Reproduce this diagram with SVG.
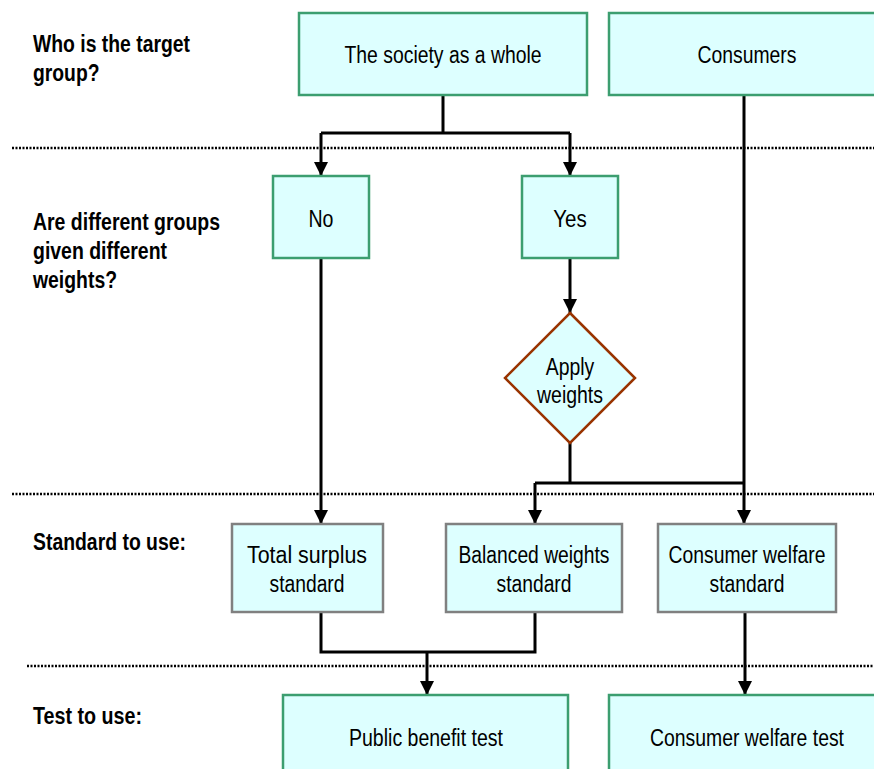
<svg xmlns="http://www.w3.org/2000/svg" width="874" height="769" viewBox="0 0 874 769">
<defs>
<marker id="ah" markerUnits="userSpaceOnUse" markerWidth="16" markerHeight="16" refX="14" refY="7" orient="auto">
<path d="M0,0 L14,7 L0,14 Z" fill="#000"/>
</marker>
<style>
.lbl{font-family:"Liberation Sans Narrow","Liberation Sans",Arial,sans-serif;font-size:23px;font-weight:bold;fill:#000}
.t{font-family:"Liberation Sans Narrow","Liberation Sans",Arial,sans-serif;font-size:23px;fill:#000;text-anchor:middle}
.g{fill:#DDFFFF;stroke:#3C9E70;stroke-width:2.5}
.s{fill:#DDFFFF;stroke:#808080;stroke-width:2.5}
.d{fill:#DDFFFF;stroke:#993300;stroke-width:2.5}
.c{fill:none;stroke:#000;stroke-width:3}
.dot{stroke:#000;stroke-width:2.5;stroke-dasharray:2 1.5}
</style>
</defs>
<rect width="874" height="769" fill="#fff"/>
<g id="separators">
<line class="dot" x1="12" y1="148" x2="874" y2="148"/>
<line class="dot" x1="12" y1="494" x2="874" y2="494"/>
<line class="dot" x1="27" y1="666" x2="874" y2="666"/>
</g>
<g id="labels">
<text class="lbl" x="33" y="52" textLength="157" lengthAdjust="spacingAndGlyphs">Who is the target</text>
<text class="lbl" x="33" y="81" textLength="66.5" lengthAdjust="spacingAndGlyphs">group?</text>
<text class="lbl" x="33" y="230" textLength="187" lengthAdjust="spacingAndGlyphs">Are different groups</text>
<text class="lbl" x="33" y="259" textLength="134" lengthAdjust="spacingAndGlyphs">given different</text>
<text class="lbl" x="33" y="288" textLength="84" lengthAdjust="spacingAndGlyphs">weights?</text>
<text class="lbl" x="33" y="550" textLength="153" lengthAdjust="spacingAndGlyphs">Standard to use:</text>
<text class="lbl" x="33" y="724" textLength="109" lengthAdjust="spacingAndGlyphs">Test to use:</text>
</g>
<g id="connectors">
<path class="c" d="M443,95 V133 M321,133 H570"/>
<path class="c" d="M321,133 V176" marker-end="url(#ah)"/>
<path class="c" d="M570,133 V176" marker-end="url(#ah)"/>
<path class="c" d="M570,258 V313" marker-end="url(#ah)"/>
<path class="c" d="M321,258 V524" marker-end="url(#ah)"/>
<path class="c" d="M744,95 V524" marker-end="url(#ah)"/>
<path class="c" d="M570,443 V483 M535,483 H744"/>
<path class="c" d="M535,483 V524" marker-end="url(#ah)"/>
<path class="c" d="M321,612 V652 H535 V612"/>
<path class="c" d="M427,652 V695" marker-end="url(#ah)"/>
<path class="c" d="M745,612 V695" marker-end="url(#ah)"/>
</g>
<g id="society">
<rect class="g" x="299" y="13" width="288" height="82"/>
<text class="t" x="443" y="63" textLength="197" lengthAdjust="spacingAndGlyphs">The society as a whole</text>
</g>
<g id="consumers">
<rect class="g" x="609" y="13" width="270" height="82"/>
<text class="t" x="747" y="63" textLength="99" lengthAdjust="spacingAndGlyphs">Consumers</text>
</g>
<g id="no">
<rect class="g" x="273" y="176" width="96" height="82"/>
<text class="t" x="321" y="227" textLength="25" lengthAdjust="spacingAndGlyphs">No</text>
</g>
<g id="yes">
<rect class="g" x="522" y="176" width="96" height="82"/>
<text class="t" x="570" y="227" textLength="33.5" lengthAdjust="spacingAndGlyphs">Yes</text>
</g>
<g id="apply">
<polygon class="d" points="570,313 635,378 570,443 505,378"/>
<text class="t" x="570" y="375" textLength="48.5" lengthAdjust="spacingAndGlyphs">Apply</text>
<text class="t" x="570" y="403" textLength="66" lengthAdjust="spacingAndGlyphs">weights</text>
</g>
<g id="total">
<rect class="s" x="232" y="524" width="151" height="88"/>
<text class="t" x="307" y="563" textLength="120" lengthAdjust="spacingAndGlyphs">Total surplus</text>
<text class="t" x="307" y="592" textLength="75" lengthAdjust="spacingAndGlyphs">standard</text>
</g>
<g id="balanced">
<rect class="s" x="446" y="524" width="176" height="88"/>
<text class="t" x="534" y="563" textLength="151" lengthAdjust="spacingAndGlyphs">Balanced weights</text>
<text class="t" x="534" y="592" textLength="75" lengthAdjust="spacingAndGlyphs">standard</text>
</g>
<g id="cwstandard">
<rect class="s" x="658" y="524" width="178" height="88"/>
<text class="t" x="747" y="563" textLength="157" lengthAdjust="spacingAndGlyphs">Consumer welfare</text>
<text class="t" x="747" y="592" textLength="75" lengthAdjust="spacingAndGlyphs">standard</text>
</g>
<g id="public">
<rect class="g" x="283" y="695" width="285" height="80"/>
<text class="t" x="426" y="746" textLength="154" lengthAdjust="spacingAndGlyphs">Public benefit test</text>
</g>
<g id="cwtest">
<rect class="g" x="609" y="695" width="270" height="80"/>
<text class="t" x="747" y="746" textLength="194" lengthAdjust="spacingAndGlyphs">Consumer welfare test</text>
</g>
</svg>
